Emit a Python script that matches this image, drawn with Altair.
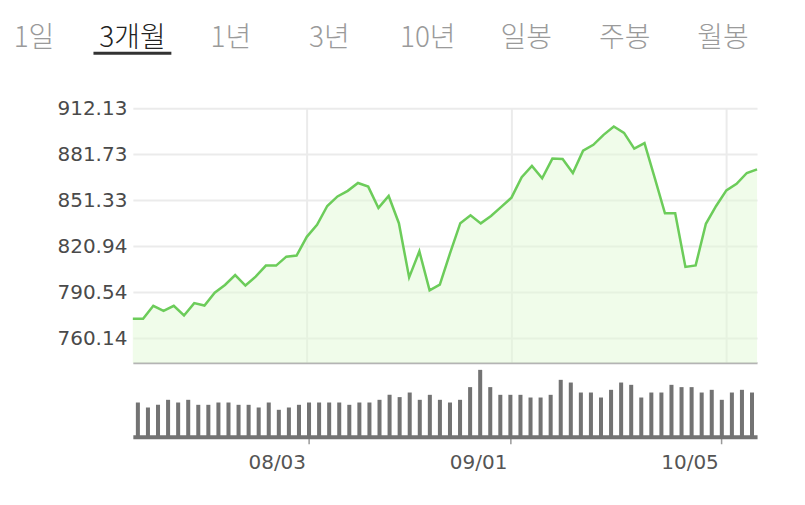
import altair as alt
import pandas as pd

# ---- data ----
dates = [
    "07/09", "07/10", "07/13", "07/14", "07/15", "07/16", "07/17", "07/20", "07/21", "07/22",
    "07/23", "07/24", "07/27", "07/28", "07/29", "07/30", "07/31",
    "08/03", "08/04", "08/05", "08/06", "08/07", "08/10", "08/11", "08/12", "08/13", "08/14",
    "08/18", "08/19", "08/20", "08/21", "08/24", "08/25", "08/26", "08/27", "08/28", "08/31",
    "09/01", "09/02", "09/03", "09/04", "09/07", "09/08", "09/09", "09/10", "09/11", "09/14",
    "09/15", "09/16", "09/17", "09/18", "09/21", "09/22", "09/23", "09/24", "09/25", "09/28",
    "09/29",
    "10/05", "10/06", "10/07", "10/08",
]
close = [
    772.9, 772.9, 781.5, 778.2, 781.5, 775.1, 783.3, 781.7, 790.2, 795.3,
    801.8, 794.9, 800.8, 808.1, 808.1, 814.0, 814.7, 827.1, 835.0, 847.5,
    853.8, 857.5, 862.7, 860.3, 846.2, 854.1, 836.1, 800.3, 817.5, 791.7,
    795.5, 816.3, 836.1, 841.3, 836.0, 840.9, 846.9, 853.0, 866.5, 874.0,
    865.8, 878.8, 878.5, 869.3, 884.0, 887.9, 894.5, 900.0, 895.8, 885.4,
    889.0, 866.0, 842.7, 842.7, 807.2, 808.2, 835.7, 847.5, 857.8, 862.1,
    869.3, 871.7,
]
volume = [
    34.3, 29.3, 32, 37, 34.3, 37, 32, 32, 34.3, 34.3,
    32, 32, 29.3, 34.3, 27, 29.3, 32, 34.3, 34.3, 34.3,
    34.3, 32, 34.3, 34.3, 37, 42, 39.7, 44.3, 37, 42,
    37, 34.3, 37, 49.7, 67, 49.7, 42, 42, 42, 39.3,
    39.3, 42, 57, 54.3, 44.3, 44.3, 39.3, 47, 54.3, 52,
    39.3, 44.3, 44.3, 52, 49.7, 49.7, 44.3, 47, 37, 44.3,
    47, 44.3,
]
tabs = ["1일", "3개월", "1년", "3년", "10년", "일봉", "주봉", "월봉"]
active_tab = "3개월"
y_ticks = [760.14, 790.54, 820.94, 851.33, 881.73, 912.13]
x_ticks = ["08/03", "09/01", "10/05"]
Y_MIN, Y_MAX = 743.8, 912.13
VOL_MAX = 70

df = pd.DataFrame({"date": dates, "close": close, "volume": volume})
tab_df = pd.DataFrame({"tab": tabs, "active": [t == active_tab for t in tabs]})

W, H = 625, 255
VOL_GAP = 74  # distance from price baseline to volume baseline

x_price = alt.X(
    "date:O", sort=None,
    scale=alt.Scale(type="point", padding=0),
    axis=alt.Axis(orient="bottom", values=x_ticks, labels=False, ticks=False,
                  grid=True, gridColor="#ebebeb", gridWidth=2,
                  domainColor="#b4b4b4", domainWidth=2, title=None),
)
y_price = alt.Y(
    "close:Q",
    scale=alt.Scale(domain=[Y_MIN, Y_MAX], zero=False, nice=False),
    axis=alt.Axis(values=y_ticks, format=".2f", domain=False, ticks=False,
                  gridColor="#ebebeb", gridWidth=2,
                  labelFont="DejaVu Sans", labelFontSize=20, labelColor="#4a4a4a",
                  labelPadding=6, title=None),
)

area = alt.Chart(df).mark_area(color="#e1f9d5", opacity=0.5).encode(
    x=x_price, y=y_price, y2=alt.datum(Y_MIN)
)
line = alt.Chart(df).mark_line(color="#6ccc5a", strokeWidth=2.5).encode(x=x_price, y=y_price)
price = alt.layer(area, line)

x_vol = alt.X(
    "date:O", sort=None,
    scale=alt.Scale(type="band", paddingInner=0.6, paddingOuter=0.3),
    axis=alt.Axis(orient="bottom", offset=VOL_GAP, values=x_ticks, grid=False,
                  domainColor="#737373", domainWidth=4,
                  tickColor="#9a9a9a", tickSize=7, tickWidth=1.5,
                  labelFont="DejaVu Sans", labelFontSize=20, labelColor="#555555",
                  labelAngle=0, labelBaseline="top",
                  labelAlign="right", labelOffset=-3, labelPadding=9, title=None),
)
y_vol = alt.Y(
    "volume:Q",
    scale=alt.Scale(domain=[0, VOL_MAX], range=[H + VOL_GAP, H + VOL_GAP - VOL_MAX]),
    axis=None,
)
bars = alt.Chart(df).mark_bar(color="#737373").encode(x=x_vol, y=y_vol)

tab_x = alt.X("tab:N", sort=tabs,
              scale=alt.Scale(type="point", range=[-99, 591], padding=0), axis=None)
tab_text = alt.Chart(tab_df).mark_text(
    font="Noto Sans CJK KR", fontSize=28, fontWeight=300, baseline="middle", align="center"
).encode(
    x=tab_x, y=alt.value(-69), text="tab:N",
    color=alt.condition("datum.active", alt.value("#222222"), alt.value("#9a9a9a")),
)
underline = alt.Chart(tab_df).transform_filter("datum.active").mark_rule(
    color="#333333", strokeWidth=3, xOffset=-39, x2Offset=39
).encode(x=tab_x, x2="tab:N", y=alt.value(-55))
tabs_layer = alt.layer(tab_text, underline)

chart = (
    alt.layer(price, bars, tabs_layer)
    .resolve_scale(x="independent", y="independent")
    .resolve_axis(x="independent", y="independent")
    .properties(
        width=W, height=H,
        autosize=alt.AutoSizeParams(type="none"),
        padding={"left": 125, "top": 100, "right": 40, "bottom": 130},
    )
    .configure_view(stroke=None)
)

chart.save("out.html", embed_options={"renderer": "svg", "actions": False})
